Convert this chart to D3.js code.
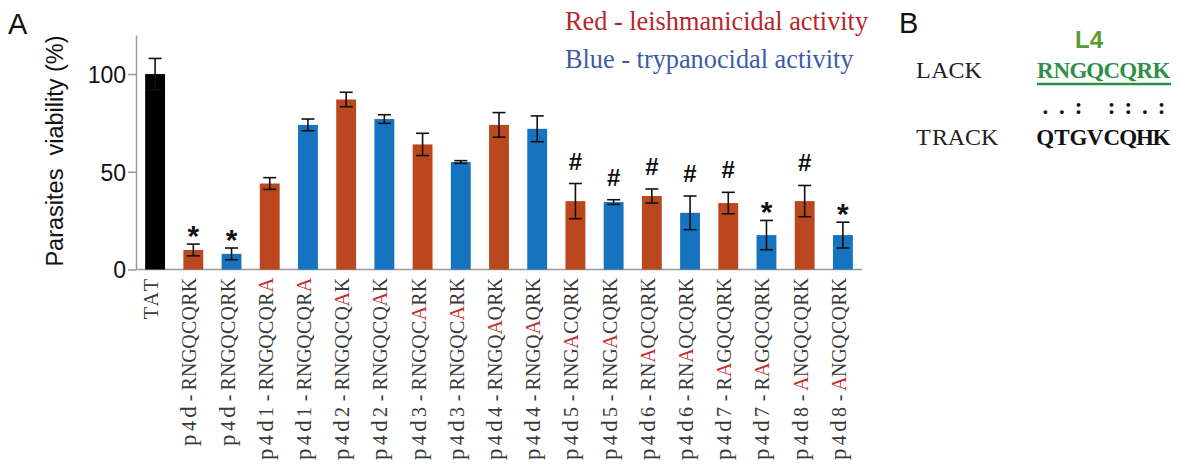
<!DOCTYPE html>
<html>
<head>
<meta charset="utf-8">
<script src="https://cdn.jsdelivr.net/npm/d3@7"></script>
<style>
  body { margin: 0; background: #fff; }
  svg { display: block; }
</style>
</head>
<body>
<svg id="chart" width="1179" height="471"></svg>
<script>
// ---- data ----
var labels = ["TAT", "p4d-RNGQCQRK", "p4d-RNGQCQRK", "p4d1-RNGQCQRA", "p4d1-RNGQCQRA",
  "p4d2-RNGQCQAK", "p4d2-RNGQCQAK", "p4d3-RNGQCARK", "p4d3-RNGQCARK",
  "p4d4-RNGQAQRK", "p4d4-RNGQAQRK", "p4d5-RNGACQRK", "p4d5-RNGACQRK",
  "p4d6-RNAQCQRK", "p4d6-RNAQCQRK", "p4d7-RAGQCQRK", "p4d7-RAGQCQRK",
  "p4d8-ANGQCQRK", "p4d8-ANGQCQRK"];
// position of the substituted (red) residue in each label, -1 = none
var redPos = [-1, -1, -1, 12, 12, 11, 11, 10, 10, 9, 9, 8, 8, 7, 7, 6, 6, 5, 5];
var groups = ["tat", "leish", "tryp", "leish", "tryp", "leish", "tryp", "leish", "tryp",
  "leish", "tryp", "leish", "tryp", "leish", "tryp", "leish", "tryp", "leish", "tryp"];
var viability = [100, 10, 8, 44, 74, 87, 77, 64, 55, 74, 72, 35, 34.5, 37.6, 29, 34, 17.6, 35, 17.6];
var errors = [8, 3, 3, 3, 3, 3.7, 2.2, 5.7, 0.7, 6.3, 6.6, 9, 1.2, 3.6, 8.6, 5.5, 7.5, 8, 6.6];
var signif = ["", "*", "*", "", "", "", "", "", "", "", "", "#", "#", "#", "#", "#", "*", "#", "*"];
var yTicks = [0, 50, 100];

var lackSeq = "RNGQCQRK";
var trackSeq = "QTGVCQHK";
var matchRow = "..: ::.:";

var colors = { tat: "#000000", leish: "#bb471e", tryp: "#1573c0" };
var serif = "'Liberation Serif', 'Times New Roman', serif";
var sans = "'Liberation Sans', Arial, sans-serif";

var svg = d3.select("#chart");

// typewriter look: serif glyphs, each centred in a fixed-width cell
function monoChars(textSel, str, cell, start, redIdx, redColor, lowerScale) {
  str.split("").forEach(function(ch, k) {
    var ts = textSel.append("tspan")
      .attr("x", start + (k + 0.5) * cell)
      .text(ch);
    if (k === redIdx) ts.attr("fill", redColor);
    if (lowerScale && /[a-z]/.test(ch)) ts.attr("font-size", lowerScale);
  });
}

// ---- panel A ----
var x = d3.scaleBand()
  .domain(d3.range(labels.length))
  .range([136, 862])
  .paddingInner(0.48)
  .paddingOuter(0.24);

var y = d3.scaleLinear()
  .domain([0, 120])
  .range([269.5, 35]);

// y axis
var yAxis = svg.append("g")
  .attr("transform", "translate(136,0)")
  .call(d3.axisLeft(y).tickValues(yTicks).tickSize(8).tickSizeOuter(0).tickPadding(2));
yAxis.select(".domain").attr("stroke", "#999").attr("stroke-width", 1.5);
yAxis.selectAll(".tick line").attr("stroke", "#999").attr("stroke-width", 1.5);
yAxis.selectAll(".tick text")
  .attr("font-family", sans)
  .attr("font-size", 23)
  .attr("fill", "#111")
  .attr("dy", "0.36em");

// x baseline
svg.append("line")
  .attr("x1", 136).attr("x2", 862)
  .attr("y1", y(0)).attr("y2", y(0))
  .attr("stroke", "#999").attr("stroke-width", 1.5);

// bars
svg.append("g").selectAll("rect")
  .data(viability)
  .join("rect")
  .attr("x", function(d, i) { return x(i); })
  .attr("width", x.bandwidth())
  .attr("y", function(d) { return y(d); })
  .attr("height", function(d) { return y(0) - y(d); })
  .attr("fill", function(d, i) { return colors[groups[i]]; });

// error bars
var eb = svg.append("g").attr("stroke", "#111").attr("stroke-width", 1.6);
viability.forEach(function(v, i) {
  var cx = x(i) + x.bandwidth() / 2;
  var top = y(v + errors[i]), bot = y(v - errors[i]);
  eb.append("line").attr("x1", cx).attr("x2", cx).attr("y1", top).attr("y2", bot);
  eb.append("line").attr("x1", cx - 6.5).attr("x2", cx + 6.5).attr("y1", top).attr("y2", top);
  eb.append("line").attr("x1", cx - 6.5).attr("x2", cx + 6.5).attr("y1", bot).attr("y2", bot);
});

// significance marks
svg.append("g").selectAll("text")
  .data(signif)
  .join("text")
  .attr("x", function(d, i) { return x(i) + x.bandwidth() / 2; })
  .attr("y", function(d, i) {
    var top = y(viability[i] + errors[i]);
    return d === "#" ? top - 14 : top + 2;
  })
  .attr("text-anchor", "middle")
  .attr("font-family", sans)
  .attr("font-weight", "bold")
  .attr("font-size", function(d) { return d === "#" ? 24 : 30; })
  .attr("fill", "#111")
  .text(function(d) { return d; });

// x labels (rotated, typewriter style, substituted residue in red)
var cellX = 14.1;
svg.append("g").selectAll("text")
  .data(labels)
  .join("text")
  .attr("transform", function(d, i) {
    return "translate(" + (x(i) + x.bandwidth() / 2 + 3) + ",278) rotate(-90)";
  })
  .attr("text-anchor", "middle")
  .attr("font-family", serif)
  .attr("font-size", 20)
  .attr("fill", "#3a3a3a")
  .each(function(d, i) {
    monoChars(d3.select(this), d, cellX, -d.length * cellX, redPos[i], "#c0302c", 23);
  });

// y title
svg.append("text")
  .attr("transform", "translate(63,151) rotate(-90)")
  .attr("text-anchor", "middle")
  .attr("font-family", sans)
  .attr("font-size", 23.5)
  .attr("fill", "#111")
  .style("white-space", "pre")
  .text("Parasites  viability (%)");

// legend
svg.append("text")
  .attr("x", 565).attr("y", 30)
  .attr("font-family", serif)
  .attr("font-size", 26.3)
  .attr("fill", "#b8262c")
  .text("Red - leishmanicidal activity");
svg.append("text")
  .attr("x", 565).attr("y", 68)
  .attr("font-family", serif)
  .attr("font-size", 26.3)
  .attr("fill", "#3d5ca8")
  .text("Blue - trypanocidal activity");

// panel letters
svg.append("text").attr("x", 8).attr("y", 34)
  .attr("font-family", sans)
  .attr("font-size", 29).attr("fill", "#111").text("A");
svg.append("text").attr("x", 899).attr("y", 33)
  .attr("font-family", sans)
  .attr("font-size", 29).attr("fill", "#111").text("B");

// ---- panel B ----
var cellB = 16.6;
svg.append("text").attr("x", 1075).attr("y", 48)
  .attr("font-family", sans)
  .attr("font-weight", "bold")
  .attr("font-size", 24).attr("fill", "#5b9a35").text("L4");

var lack = svg.append("text").attr("y", 78)
  .attr("text-anchor", "middle")
  .attr("font-family", serif).attr("font-size", 24).attr("fill", "#222");
monoChars(lack, "LACK", cellB, 915, -1);
var track = svg.append("text").attr("y", 145)
  .attr("text-anchor", "middle")
  .attr("font-family", serif).attr("font-size", 24).attr("fill", "#222");
monoChars(track, "TRACK", cellB, 915, -1);

var seq1 = svg.append("text").attr("y", 78)
  .attr("text-anchor", "middle")
  .attr("font-family", serif).attr("font-weight", "bold")
  .attr("font-size", 23).attr("fill", "#2f8f45");
monoChars(seq1, lackSeq, cellB, 1037, -1);
svg.append("line")
  .attr("x1", 1037).attr("x2", 1171).attr("y1", 84).attr("y2", 84)
  .attr("stroke", "#2f8f45").attr("stroke-width", 2.5);

var dots = svg.append("text").attr("y", 114)
  .attr("text-anchor", "middle")
  .attr("font-family", serif).attr("font-weight", "bold")
  .attr("font-size", 23).attr("fill", "#111");
monoChars(dots, matchRow, cellB, 1037, -1);

var seq2 = svg.append("text").attr("y", 145)
  .attr("text-anchor", "middle")
  .attr("font-family", serif).attr("font-weight", "bold")
  .attr("font-size", 23).attr("fill", "#111");
monoChars(seq2, trackSeq, cellB, 1037, -1);
</script>
</body>
</html>
